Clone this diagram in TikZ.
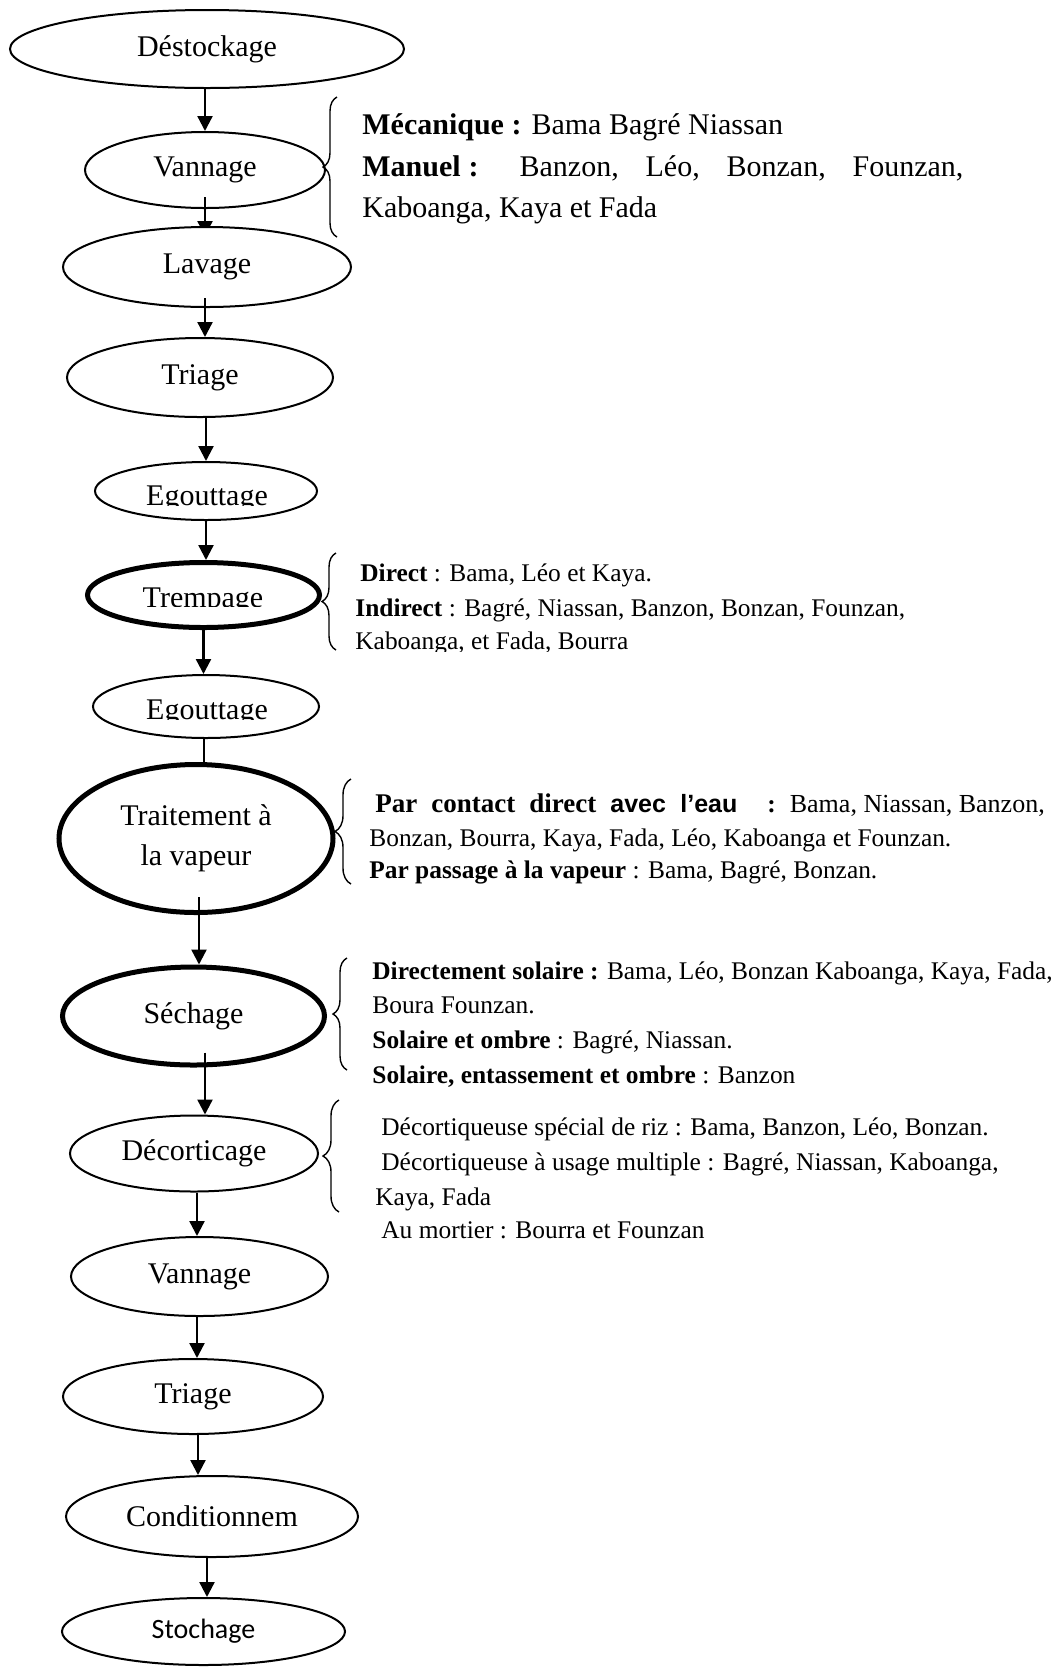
\documentclass[tikz,border=0pt]{standalone}
\usepackage{fontspec}
\setmainfont{Liberation Serif}
\newfontfamily\sansf{Liberation Sans}
\newfontfamily\calib{Carlito}
\usetikzlibrary{shapes.geometric,arrows.meta,calc,decorations.pathreplacing}
\pgfdeclarelayer{behind}
\pgfsetlayers{behind,main}
\begin{document}
\begin{tikzpicture}[x=0.5pt,y=-0.5pt,
  ell/.style={ellipse, draw, line width=1pt, inner sep=0pt, fill=white, font=\fontsize{15}{20}\selectfont},
  thickell/.style={ell, line width=2.5pt},
  arr/.style={line width=1.15pt, -{Triangle[width=7.5pt,length=7.5pt]}},
  conn/.style={line width=1.15pt},
  txt/.style={anchor=base west, inner sep=0pt, font=\fontsize{12.7}{15}\selectfont},
  bigtxt/.style={txt, font=\fontsize{15}{20}\selectfont},
  lbl/.style={anchor=base, inner sep=0pt, font=\fontsize{15}{20}\selectfont},
  brc/.style={decorate, decoration={brace, amplitude=#1}, line width=0.7pt},
  brc/.default=7pt
]
\begin{pgfonlayer}{behind}
\fill[white] (0,0) rectangle (1055,1667);
\end{pgfonlayer}
\useasboundingbox (0,0) rectangle (1055,1667);

% ---- process steps ----
\node[ell, minimum width=197pt, minimum height=39pt] (des) at (207,49) {Déstockage};
\node[ell, fill=none, minimum width=120pt, minimum height=38pt] (van1) at (205,170) {Vannage};
\node[ell, minimum width=144pt, minimum height=40pt] (lav) at (207,267) {Lavage};
\node[ell, minimum width=133pt, minimum height=39.5pt] (tri1) at (200,377.5) {Triage};
\node[ell, minimum width=111pt, minimum height=29pt] (ego1) at (206,491) {};
\node[thickell, minimum width=116pt, minimum height=32.5pt] (tre) at (203.5,595) {};
\node[ell, minimum width=113pt, minimum height=31.5pt] (ego2) at (206,706.5) {};
\node[thickell, minimum width=137pt, minimum height=74pt, align=center] (trait) at (196,838.5) {Traitement à\\la vapeur};
\node[thickell, minimum width=131pt, minimum height=49pt] (sech) at (193.5,1016) {Séchage};
\node[ell, minimum width=124pt, minimum height=38pt] (dec) at (194,1153.5) {Décorticage};
\node[ell, minimum width=128.5pt, minimum height=39.5pt] (van2) at (199.5,1276.5) {Vannage};
\node[ell, minimum width=130pt, minimum height=37.5pt] (tri2) at (193,1396.5) {Triage};
\node[ell, minimum width=146pt, minimum height=40.5pt] (cond) at (212,1516.5) {Conditionnem};
\node[ell, minimum width=141.5pt, minimum height=33.5pt, font=\calib\fontsize{14}{16}\selectfont] (sto) at (203.5,1631.5) {Stochage};

% clipped labels
\begin{scope}
\clip (80,470) rectangle (330,505.5);
\node[lbl] (ego1t) at (207,505) {Egouttage};
\end{scope}
\begin{scope}
\clip (80,570) rectangle (330,606.5);
\node[lbl] (tret) at (203,607) {Trempage};
\end{scope}
\begin{scope}
\clip (80,682) rectangle (330,719.5);
\node[lbl] (ego2t) at (207,719) {Egouttage};
\end{scope}

% ---- connectors ----
\draw[arr] (des.south -| van1.north) -- (van1.north);
\coordinate (lavtip) at (205,236);
\begin{pgfonlayer}{behind}
\draw[arr] ($(van1.south)+(0,-12)$) -- (lavtip);
\end{pgfonlayer}
\coordinate (c3) at ($(lav.south)+(-2,-10)$);
\draw[arr] (c3) -- (c3 |- tri1.north);
\coordinate (c4) at (ego1.north |- tri1.south);
\draw[arr] (c4) -- (ego1.north);
\draw[arr] (ego1.south) -- (ego1.south |- tre.north);
\draw[arr] (tre.south) -- (tre.south |- ego2.north);
\coordinate (c7) at ($(ego2.south)+(-2,0)$);
\draw[conn] (c7) -- (c7 |- trait.north);
\coordinate (c8) at ($(trait.south)+(3,-18)$);
\draw[arr] (c8) -- (c8 |- sech.north);
\coordinate (c9) at ($(sech.south)+(11.5,-15)$);
\draw[arr] (c9) -- (c9 |- dec.north);
\coordinate (c10) at ($(dec.south)+(3,0)$);
\draw[arr] (c10) -- (c10 |- van2.north);
\coordinate (c11) at ($(van2.south)+(-2.5,0)$);
\draw[arr] (c11) -- (c11 |- tri2.north);
\coordinate (c12) at ($(tri2.south)+(5,0)$);
\draw[arr] (c12) -- (c12 |- cond.north);
\coordinate (c13) at ($(cond.south)+(-5,0)$);
\draw[arr] (c13) -- (c13 |- sto.north);

% ---- braces ----
\draw[brc] (337,237) -- (337,97);
\draw[brc] (336,650) -- (336,553);
\draw[brc=8pt] (351,884) -- (351,779);
\draw[brc] (347,1070) -- (347,958);
\draw[brc=8pt] (339,1212) -- (339,1100);

% ---- notes ----
\node[bigtxt] (m1) at (362,134) {\textbf{Mécanique :} Bama Bagré Niassan};
\node[bigtxt] (m2) at (362,176) {\makebox[300.5pt][s]{\textbf{Manuel\hspace{4pt}:} Banzon, Léo, Bonzan, Founzan,}};
\node[bigtxt] (m3) at (362,217) {Kaboanga, Kaya et Fada};

\node[txt] (t1) at (360,581) {\textbf{Direct} : Bama, Léo et Kaya.};
\node[txt] (t2) at (355,616) {\textbf{Indirect} : Bagré, Niassan, Banzon, Bonzan, Founzan,};
\begin{scope}
\clip (340,622) rectangle (700,651);
\node[txt] (t3) at (355,649) {Kaboanga, et Fada, Bourra};
\end{scope}

\node[txt] (p1) at (375,812) {\makebox[181pt][s]{\fontsize{13.5}{16}\selectfont\bfseries Par contact direct {\sansf\fontsize{12.5}{16}\selectfont avec l’eau}}\hspace{15pt}\textbf{:}\hspace{7pt}{\fontsize{13}{16}\selectfont Bama, Niassan, Banzon,}};
\node[txt] (p2) at (369,846) {Bonzan, Bourra, Kaya, Fada, Léo, Kaboanga et Founzan.};
\node[txt] (p3) at (369,878) {\textbf{Par passage à la vapeur} : Bama, Bagré, Bonzan.};

\node[txt] (s1) at (372,979) {\textbf{Directement solaire :} Bama, Léo, Bonzan Kaboanga, Kaya, Fada,};
\node[txt] (s2) at (372,1013) {Boura Founzan.};
\node[txt] (s3) at (372,1048) {\textbf{Solaire et ombre} : Bagré, Niassan.};
\node[txt] (s4) at (372,1083) {\textbf{Solaire, entassement et ombre} : Banzon};

\node[txt] (d1) at (381,1135) {Décortiqueuse spécial de riz : Bama, Banzon, Léo, Bonzan.};
\node[txt] (d2) at (381,1170) {Décortiqueuse à usage multiple : Bagré, Niassan, Kaboanga,};
\node[txt] (d3) at (375,1205) {Kaya, Fada};
\node[txt] (d4) at (381,1238) {Au mortier : Bourra et Founzan};
\end{tikzpicture}
\end{document}
